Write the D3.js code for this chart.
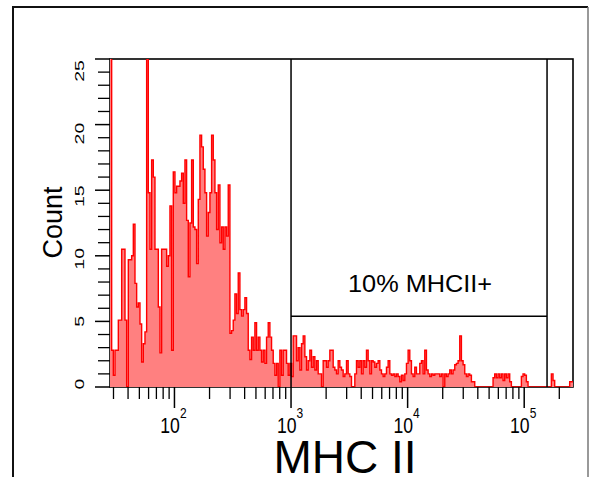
<!DOCTYPE html>
<html>
<head>
<meta charset="utf-8">
<script src="https://cdn.jsdelivr.net/npm/d3@7"></script>
<style>
  body { margin: 0; background: #fff; }
  text { font-family: "Liberation Sans", Arial, sans-serif; fill: #000; }
</style>
</head>
<body>
<div id="chart"></div>
<script>
// channel counts, 70 channels per decade starting at xMin
const counts = [
  60, 2.8, 0.9, 2.8, 2.8, 5.1, 5.1, 10.5, 10.5, 5.1,
  0, 9.7, 9.7, 10, 12.4, 7.9, 6.1, 6.4, 4.8, 1.9,
  3.3, 4.2, 30, 14.8, 10.5, 17.3, 16, 10.5, 10.5, 6.1,
  2.6, 10.5, 10.5, 10.5, 9.2, 10, 13.8, 2.8, 16.4, 14.8,
  15.3, 15.3, 15.7, 16.3, 14, 17.3, 12.7, 8.4, 12.5, 17.3,
  12.2, 12, 9.4, 14.3, 19.2, 18.3, 16.6, 14.8, 11.5, 13.3,
  14.8, 19.2, 17.3, 14.8, 12, 15.4, 11, 12.2, 10.5, 12.2,
  11.5, 15.4, 4.1, 4.3, 5.1, 7.1, 5.6, 8.7, 5.9, 5.4,
  5.9, 6.8, 5.6, 2.8, 2.1, 3.8, 2.8, 4.9, 2.8, 3.8,
  2.8, 1.9, 2.8, 1.8, 3.8, 4.9, 3.8, 2.8, 1.8, 0.9,
  1.8, 0, 2.8, 0.9, 2.8, 2.8, 1.8, 0.9, 1.8, 0.8,
  3.9, 3.9, 2, 3, 1.3, 3.3, 3.9, 2.3, 1.3, 2,
  2.8, 1.5, 2.3, 1.3, 2, 1, 1, 0, 2, 2,
  1.5, 2, 2.8, 2.8, 1.5, 1.3, 1, 2, 1.5, 1.3,
  0.8, 1, 2, 1, 0.8, 0, 0, 1, 2, 1.5,
  2, 1, 2, 1.5, 2.8, 2, 1, 2, 1.9, 1.5,
  1.8, 2, 1.3, 1, 0.8, 1, 1.5, 2, 1, 0.9,
  1, 0.8, 1, 0.8, 0.4, 0.9, 0.5, 1, 1.8, 2.8,
  2, 1, 0.8, 1.5, 1, 1, 1.8, 2, 1, 2.8,
  1.3, 1, 0.8, 1, 0.9, 1, 1, 1, 0.8, 1,
  0, 1, 0.8, 1, 1.3, 1, 1.3, 1.7, 1.8, 2,
  3.9, 2, 1.7, 1, 0.8, 1, 0.9, 0.4, 0.4, 0,
  0, 0, 0, 0, 0, 0, 0, 0, 0, 0,
  0.7, 1, 0.7, 1, 0.7, 1, 0.5, 1, 0.7, 1,
  0.4, 0, 0, 0, 0, 0, 0, 0.8, 1, 0.9,
  0.4, 0, 0, 0, 0, 0, 0, 0, 0, 0,
  0, 0, 0, 0, 0, 1, 0.5, 0, 0, 0,
  0, 0, 0, 0, 0, 0, 0.4, 0.4
];
const binsPerDecade = 70;
const xMin = 28, xMax = 262144;
const yTicks = [0, 5, 10, 15, 20, 25];
const xMajor = [100, 1000, 10000, 100000];
const xMajorExp = ["2", "3", "4", "5"];
const gateFrom = 1000, gateTo = 157000, gateLevel = 5.4;
const gateLabel = "10% MHCII+";
const xTitle = "MHC II";
const yTitle = "Count";

const width = 590, height = 477;
const plot = { left: 110, right: 573, top: 59, bottom: 387 };

const svg = d3.select("#chart").append("svg")
  .attr("width", width)
  .attr("height", height);

// outer frame
svg.append("path")
  .attr("d", `M13,${height + 5} V7 H588`)
  .attr("fill", "none").attr("stroke", "#111").attr("stroke-width", 2);
svg.append("path")
  .attr("d", `M588,7 V${height + 5}`)
  .attr("fill", "none").attr("stroke", "#777").attr("stroke-width", 1.5);

const x = d3.scaleLog().domain([xMin, xMax]).range([plot.left, plot.right]);
const y = d3.scaleLinear().domain([0, 25]).range([plot.bottom, plot.top]);
// tick labels sit on a slightly compressed spacing in the original
const yLab = d3.scaleLinear().domain([0, 25]).range([384, 71]);

const edge = i => xMin * Math.pow(10, i / binsPerDecade);

svg.append("defs").append("clipPath").attr("id", "clip")
  .append("rect")
  .attr("x", plot.left).attr("y", plot.top)
  .attr("width", plot.right - plot.left).attr("height", plot.bottom - plot.top);

// plot frame
svg.append("rect")
  .attr("x", plot.left).attr("y", plot.top)
  .attr("width", plot.right - plot.left).attr("height", plot.bottom - plot.top)
  .attr("fill", "none").attr("stroke", "#000").attr("stroke-width", 1.6);

const pts = counts.map((c, i) => [edge(i), c]);
pts.push([edge(counts.length), counts[counts.length - 1]]);

const g = svg.append("g").attr("clip-path", "url(#clip)");
g.append("path")
  .datum(pts)
  .attr("fill", "#ff8080")
  .attr("d", d3.area().curve(d3.curveStepAfter)
    .x(d => x(d[0])).y0(y(0)).y1(d => y(d[1])));
g.append("path")
  .datum(pts)
  .attr("fill", "none")
  .attr("stroke", "#ff0000")
  .attr("stroke-width", 1.4)
  .attr("d", d3.line().curve(d3.curveStepAfter)
    .x(d => x(d[0])).y(d => y(d[1])));

// gate
svg.append("path")
  .attr("d", `M${x(gateFrom)},${plot.top} V${plot.bottom}` +
             `M${x(gateTo)},${plot.top} V${plot.bottom}` +
             `M${x(gateFrom)},${y(gateLevel)} H${x(gateTo)}`)
  .attr("fill", "none").attr("stroke", "#000").attr("stroke-width", 1.5);

svg.append("text")
  .attr("transform", `translate(${(x(gateFrom) + x(gateTo)) / 2 + 1},291.5) scale(1.1,1)`)
  .attr("text-anchor", "middle")
  .attr("font-size", 23)
  .text(gateLabel);

// x axis ticks (log, minor at each integer multiple)
const xMinor = [];
for (let e = 1; e <= 5; e++) {
  for (let m = 1; m <= 9; m++) {
    const v = m * Math.pow(10, e);
    if (v >= xMin && v <= xMax && m !== 1) xMinor.push(v);
  }
}
svg.append("g").selectAll("line").data(xMinor).join("line")
  .attr("x1", d => x(d)).attr("x2", d => x(d))
  .attr("y1", plot.bottom).attr("y2", plot.bottom + 12)
  .attr("stroke", "#000").attr("stroke-width", 1.3);
svg.append("g").selectAll("line").data(xMajor).join("line")
  .attr("x1", d => x(d)).attr("x2", d => x(d))
  .attr("y1", plot.bottom).attr("y2", plot.bottom + 21)
  .attr("stroke", "#000").attr("stroke-width", 1.5);

const xl = svg.append("g").selectAll("text").data(xMajor).join("text")
  .attr("transform", d => `translate(${x(d) - 1},433) scale(0.8,1)`)
  .attr("text-anchor", "middle")
  .attr("font-size", 22);
xl.append("tspan").text("10");
xl.append("tspan").attr("font-size", 15).attr("dy", -15).text((d, i) => xMajorExp[i]);

// y axis ticks
const yMinor = d3.range(0, 26).filter(v => v % 5 !== 0);
svg.append("g").selectAll("line").data(yMinor).join("line")
  .attr("x1", plot.left - 12).attr("x2", plot.left)
  .attr("y1", d => y(d)).attr("y2", d => y(d))
  .attr("stroke", "#000").attr("stroke-width", 1.3);
svg.append("g").selectAll("line").data(yTicks).join("line")
  .attr("x1", plot.left - 15).attr("x2", plot.left)
  .attr("y1", d => y(d)).attr("y2", d => y(d))
  .attr("stroke", "#000").attr("stroke-width", 1.5);

svg.append("g").selectAll("text").data(yTicks).join("text")
  .attr("transform", d => `translate(84,${yLab(d)}) rotate(-90) scale(1.5,1)`)
  .attr("text-anchor", "middle")
  .attr("font-size", 13)
  .text(d => d);

// axis titles
svg.append("text")
  .attr("x", 345).attr("y", 473)
  .attr("text-anchor", "middle")
  .attr("font-size", 46)
  .text(xTitle);

svg.append("text")
  .attr("transform", "translate(62,222.5) rotate(-90)")
  .attr("text-anchor", "middle")
  .attr("font-size", 27)
  .text(yTitle);
</script>
</body>
</html>
